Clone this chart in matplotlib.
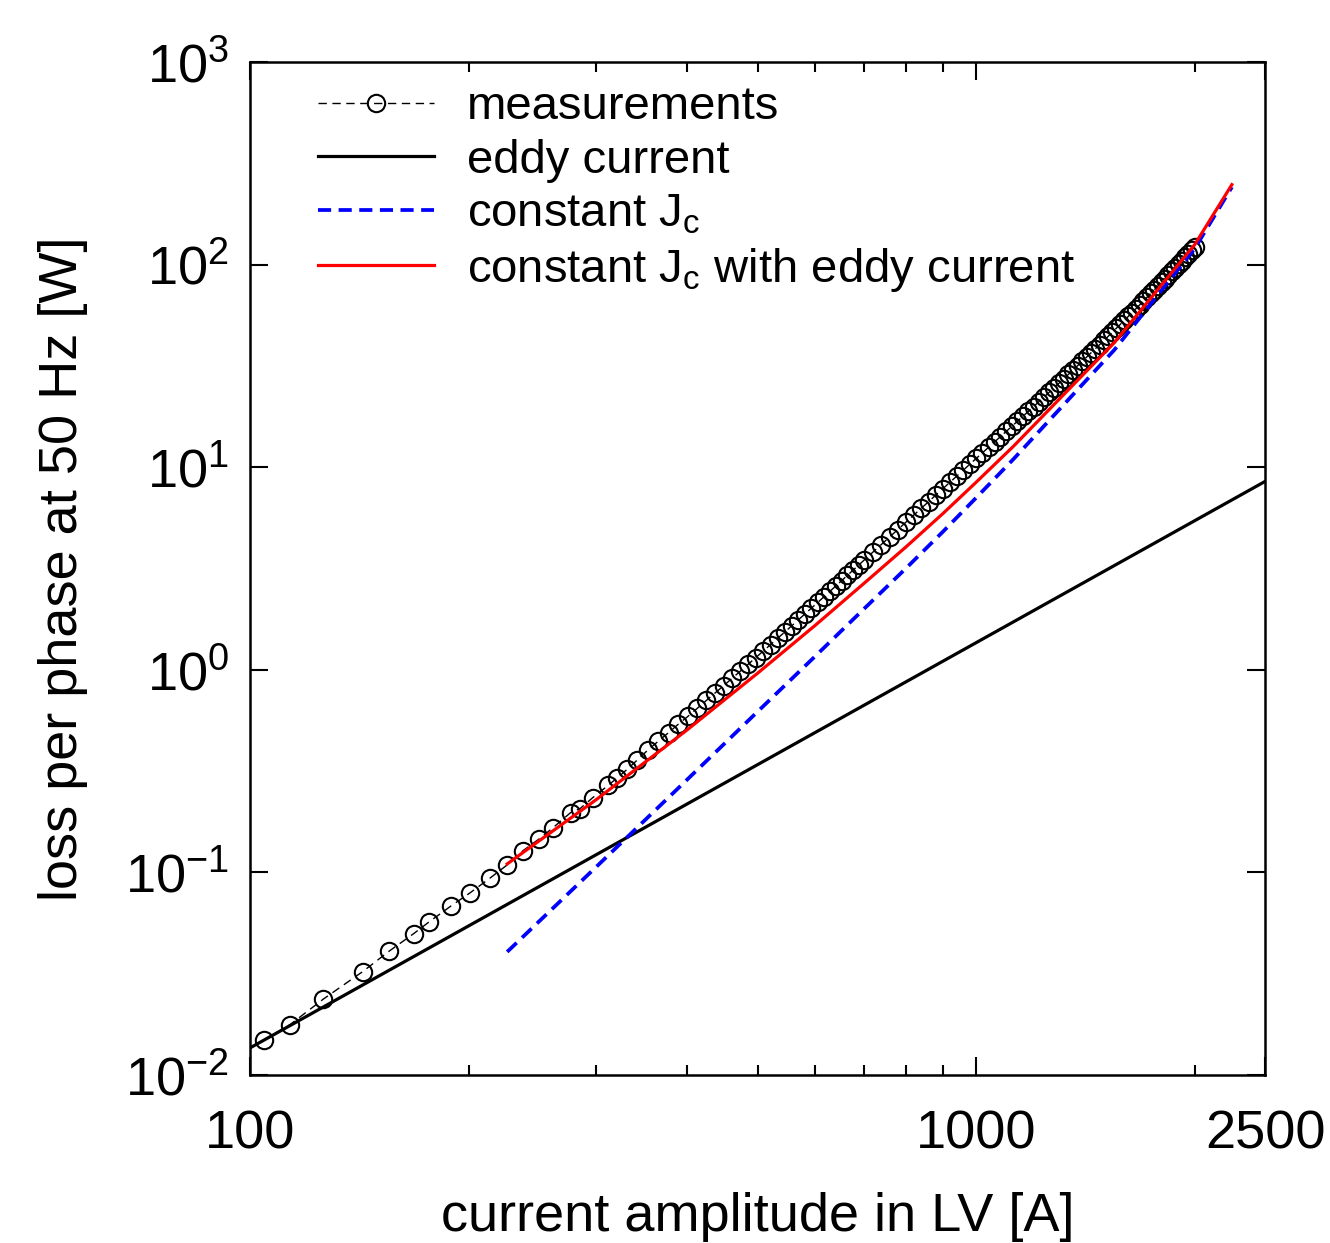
import matplotlib
matplotlib.use("Agg")
import matplotlib.pyplot as plt
from matplotlib.ticker import FixedLocator, NullLocator, NullFormatter

# ------------------------------------------------------------------
# data (current amplitude [A], loss [W])
# ------------------------------------------------------------------
meas_x = [104.5, 113.5, 126.2, 143.0, 155.4, 168.0, 176.4, 189.2, 201.1, 213.9,
          226.0, 237.7, 249.8, 261.5, 276.3, 284.6, 296.6, 311.5, 319.8, 330.9,
          341.6,
          353, 365, 377, 389, 401, 413, 425, 437, 449, 461,
          473, 485, 497, 509, 521, 533, 545, 557, 569, 581,
          593, 605, 617, 629, 641, 653, 665, 677, 689, 701,
          720, 740, 760, 780, 800, 820, 840, 860, 880, 900,
          920, 940, 960, 980, 1000, 1020, 1040, 1060, 1080, 1100,
          1120, 1140, 1160, 1180, 1200, 1220, 1240, 1260, 1280, 1300,
          1320, 1340, 1360, 1380, 1400, 1420, 1440, 1460, 1480, 1500,
          1520, 1540, 1560, 1580, 1600, 1620, 1640, 1660, 1680, 1700,
          1720, 1740, 1760, 1780, 1800, 1820, 1840, 1860, 1880, 1900,
          1920, 1940, 1960, 1980, 2000]
meas_y = [0.0149, 0.0177, 0.0237, 0.0324, 0.0408, 0.0498, 0.0569, 0.0683, 0.0794, 0.0935,
          0.1088, 0.128, 0.1457, 0.1663, 0.197, 0.206, 0.234, 0.269, 0.291, 0.323,
          0.359,
          0.401, 0.444, 0.489, 0.539, 0.589, 0.645, 0.705, 0.768, 0.834, 0.906,
          0.981, 1.062, 1.146, 1.236, 1.330, 1.430, 1.535, 1.645, 1.762, 1.885,
          2.013, 2.148, 2.289, 2.438, 2.593, 2.755, 2.925, 3.103, 3.284, 3.476,
          3.792, 4.145, 4.520, 4.918, 5.34, 5.786, 6.257, 6.755, 7.279, 7.83,
          8.410, 9.019, 9.657, 10.33, 11.03, 11.76, 12.52, 13.31, 14.14, 15.0,
          15.90, 16.85, 17.83, 18.84, 19.9, 21.01, 22.17, 23.36, 24.61, 25.9,
          27.28, 28.70, 30.18, 31.71, 33.3, 34.96, 36.68, 38.46, 40.29, 42.2,
          44.22, 46.31, 48.47, 50.70, 53.0, 55.44, 57.96, 60.56, 63.24, 66.0,
          68.93, 71.95, 75.06, 78.28, 81.6, 85.12, 88.75, 92.49, 96.35, 100.3,
          104.4, 108.6, 112.9, 117.4, 122]

eddy_x = [100, 200, 500, 1000, 2000, 2500]
eddy_y = [0.0136, 0.0544, 0.34, 1.36, 5.44, 8.5]

sim_x     = [226, 300, 400, 500, 600, 700, 800, 900, 1000, 1125, 1550, 2000, 2250]
jc_y      = [0.0405, 0.1067, 0.287, 0.621, 1.164, 1.99, 3.16, 4.80, 7.06, 10.93, 37.9, 120, 241]
jc_eddy_y = [0.110, 0.229, 0.505, 0.961, 1.654, 2.66, 4.03, 5.90, 8.42, 12.65, 41.2, 125.4, 247.9]

x_ticks = [100, 1000, 2500]
x_tick_labels = ["100", "1000", "2500"]
x_minor = [200, 300, 400, 500, 600, 700, 800, 900, 2000]
y_ticks = [1e-2, 1e-1, 1e0, 1e1, 1e2, 1e3]
y_tick_labels = [r"$\mathregular{10^{-2}}$", r"$\mathregular{10^{-1}}$", r"$\mathregular{10^{0}}$",
                 r"$\mathregular{10^{1}}$", r"$\mathregular{10^{2}}$", r"$\mathregular{10^{3}}$"]

# ------------------------------------------------------------------
plt.rcParams['font.family'] = ['Liberation Sans', 'DejaVu Sans']
plt.rcParams['mathtext.fontset'] = 'custom'
plt.rcParams['mathtext.rm'] = 'Liberation Sans'
plt.rcParams['mathtext.it'] = 'Liberation Sans:italic'

fig = plt.figure(figsize=(13.3, 12.43), dpi=100)
ax = fig.add_axes([0.188, 0.1352, 0.7632, 0.815])

ax.plot(meas_x, meas_y, color='black', lw=1.0, ls=(0, (6, 4)),
        marker='o', ms=12.5, mfc='none', mec='black', mew=1.5, label='measurements')
ax.plot(eddy_x, eddy_y, color='black', lw=2.3, label='eddy current')
ax.plot(sim_x, jc_y, color='#0000ff', lw=2.7, ls=(0, (3.5, 2)),
        label=r'constant J$_\mathregular{c}$')
ax.plot(sim_x, jc_eddy_y, color='#ff0000', lw=2.3,
        label=r'constant J$_\mathregular{c}$ with eddy current')

ax.set_xscale('log')
ax.set_yscale('log')
ax.set_xlim(100, 2500)
ax.set_ylim(1e-2, 1e3)

ax.xaxis.set_major_locator(FixedLocator(x_ticks))
ax.set_xticklabels(x_tick_labels)
ax.xaxis.set_minor_locator(FixedLocator(x_minor))
ax.xaxis.set_minor_formatter(NullFormatter())
ax.yaxis.set_major_locator(FixedLocator(y_ticks))
ax.set_yticklabels(y_tick_labels)
ax.yaxis.set_minor_locator(NullLocator())

ax.tick_params(which='both', direction='in', top=True, right=True, width=1.5, labelsize=39)
ax.tick_params(which='major', length=13)
ax.tick_params(which='minor', length=7)
ax.tick_params(axis='x', pad=25)
ax.tick_params(axis='y', pad=15)
for sp in ax.spines.values():
    sp.set_linewidth(1.8)

ax.set_xlabel('current amplitude in LV [A]', fontsize=39)
ax.xaxis.set_label_coords(0.5, -0.116)
ax.set_ylabel('loss per phase at 50 Hz [W]', fontsize=39)
ax.yaxis.set_label_coords(-0.16, 0.5)

ax.legend(loc='upper left', bbox_to_anchor=(0.067, 0.977), frameon=False, fontsize=34,
          handlelength=2.45, handletextpad=0.7, borderpad=0, borderaxespad=0,
          labelspacing=0.2)

fig.savefig('out.png', dpi=100)
